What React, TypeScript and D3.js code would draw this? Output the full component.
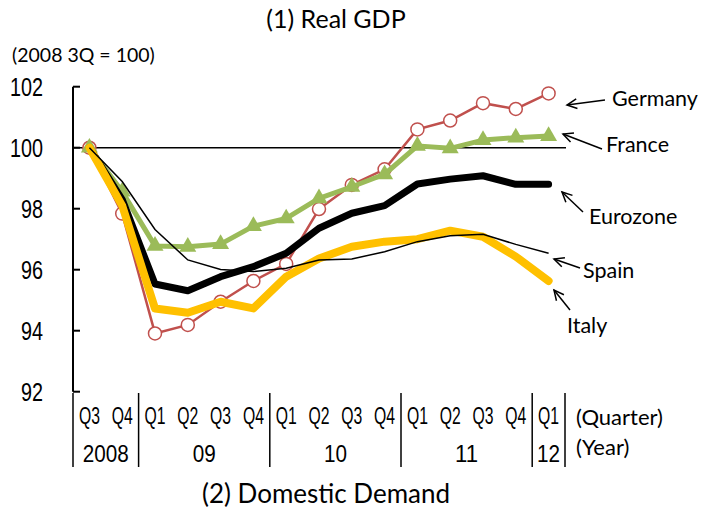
import React from "react";
import * as d3 from "d3";

const quarters = ["Q3", "Q4", "Q1", "Q2", "Q3", "Q4", "Q1", "Q2", "Q3", "Q4", "Q1", "Q2", "Q3", "Q4", "Q1"];
const years = ["2008", "09", "10", "11", "12"];
const yearSpans = [2, 4, 4, 4, 1];
const yTicks = [92, 94, 96, 98, 100, 102];

const germany = [100, 97.84, 93.91, 94.19, 94.95, 95.63, 96.19, 97.99, 98.78, 99.29, 100.6, 100.89, 101.46, 101.27, 101.78];
const france = [100, 98.56, 96.78, 96.75, 96.84, 97.43, 97.68, 98.34, 98.72, 99.13, 100.06, 99.98, 100.25, 100.33, 100.38];
const eurozone = [100, 98.3, 95.53, 95.31, 95.77, 96.1, 96.54, 97.36, 97.85, 98.1, 98.81, 98.97, 99.08, 98.8, 98.8];
const italy = [100, 98.1, 94.73, 94.59, 94.95, 94.73, 95.77, 96.37, 96.75, 96.92, 97.0, 97.28, 97.08, 96.43, 95.63];
const spain = [100, 98.89, 97.32, 96.32, 96.01, 95.94, 96.05, 96.32, 96.35, 96.59, 96.92, 97.11, 97.16, 96.83, 96.54];

const seriesNames = ["Germany", "France", "Eurozone", "Spain", "Italy"];

// annotation layout: label position and arrow tail/head
const annot = [
  { name: "Germany", tx: 612, ty: 98, x1: 605, y1: 100, x2: 567, y2: 105 },
  { name: "France", tx: 606, ty: 144, x1: 602, y1: 149, x2: 563, y2: 134 },
  { name: "Eurozone", tx: 589, ty: 216, x1: 583, y1: 212, x2: 562, y2: 192 },
  { name: "Spain", tx: 583, ty: 270, x1: 580, y1: 268, x2: 554, y2: 259 },
  { name: "Italy", tx: 567, ty: 325, x1: 570, y1: 310, x2: 554, y2: 290 },
];

const W = 704;
const H = 510;
const LATO = "Lato, 'Open Sans', sans-serif";
const NARROW = "'Liberation Sans Narrow', 'Liberation Sans', sans-serif";

export default function App() {
  const idx = quarters.map((_, i) => i);
  const x = d3.scaleBand<number>().domain(idx).range([73, 565]).padding(0);
  const bw = x.bandwidth();
  const cx = (i: number) => (x(i) as number) + bw / 2;
  const y = d3.scaleLinear().domain([92, 102]).range([391.7, 86.7]);

  const line = d3
    .line<number>()
    .x((_, i) => cx(i))
    .y((d) => y(d))
    .curve(d3.curveLinear);

  // year group boundaries
  const bounds: number[] = [0];
  yearSpans.forEach((s, k) => bounds.push(bounds[k] + s));

  const tri = d3.symbol().type(d3.symbolTriangle).size(125)();

  const arrowHead = (a: { x1: number; y1: number; x2: number; y2: number }) => {
    const ang = Math.atan2(a.y1 - a.y2, a.x1 - a.x2);
    const L = 11;
    const spread = 0.45;
    const p1 = [a.x2 + L * Math.cos(ang + spread), a.y2 + L * Math.sin(ang + spread)];
    const p2 = [a.x2 + L * Math.cos(ang - spread), a.y2 + L * Math.sin(ang - spread)];
    return `M${p1[0]},${p1[1]}L${a.x2},${a.y2}L${p2[0]},${p2[1]}`;
  };

  return (
    <svg width={W} height={H} style={{ position: "absolute", left: 0, top: 0, background: "#fff" }}>
      <rect width={W} height={H} fill="#fff" />
      {/* titles */}
      <text x={336} y={18} fontFamily={LATO} fontSize={25} textAnchor="middle" dominantBaseline="central" fill="#000">
        (1) Real GDP
      </text>
      <text x={12} y={54} fontFamily={LATO} fontSize={19.5} dominantBaseline="central" fill="#000">
        (2008 3Q = 100)
      </text>
      <text x={326} y={493} fontFamily={LATO} fontSize={26} textAnchor="middle" dominantBaseline="central" fill="#000">
        (2) Domestic Demand
      </text>

      {/* y axis */}
      <line x1={73} x2={73} y1={y(102)} y2={y(92)} stroke="#000" strokeWidth={2} />
      {yTicks.map((t) => (
        <g key={t}>
          <line x1={73} x2={80} y1={y(t)} y2={y(t)} stroke="#000" strokeWidth={2} />
          <text
            x={43}
            y={y(t)}
            fontFamily={NARROW}
            fontSize={25}
            textAnchor="end"
            dominantBaseline="central"
            textLength={String(t).length * 11}
            lengthAdjust="spacingAndGlyphs"
            fill="#000"
          >
            {t}
          </text>
        </g>
      ))}

      {/* reference line at 100 */}
      <line x1={73} x2={566} y1={y(100)} y2={y(100)} stroke="#000" strokeWidth={1.5} />

      {/* x axis labels */}
      {quarters.map((q, i) => (
        <text
          key={i}
          x={cx(i)}
          y={416}
          fontFamily={NARROW}
          fontSize={23}
          textAnchor="middle"
          dominantBaseline="central"
          textLength={21}
          lengthAdjust="spacingAndGlyphs"
          fill="#000"
        >
          {q}
        </text>
      ))}
      {years.map((yr, k) => {
        const a = x(bounds[k]) as number;
        const b = (x(bounds[k + 1] - 1) as number) + bw;
        return (
          <text
            key={yr}
            x={(a + b) / 2}
            y={453}
            fontFamily={NARROW}
            fontSize={24}
            textAnchor="middle"
            dominantBaseline="central"
            textLength={yr.length * 11.5}
            lengthAdjust="spacingAndGlyphs"
            fill="#000"
          >
            {yr}
          </text>
        );
      })}
      {bounds.map((bi, k) => {
        const xx = bi < quarters.length ? (x(bi) as number) : (x(quarters.length - 1) as number) + bw;
        return <line key={k} x1={xx} x2={xx} y1={393} y2={467} stroke="#000" strokeWidth={1.5} />;
      })}
      <text x={576} y={416} fontFamily={LATO} fontSize={22} dominantBaseline="central" fill="#000">
        (Quarter)
      </text>
      <text x={576} y={446} fontFamily={LATO} fontSize={22} dominantBaseline="central" fill="#000">
        (Year)
      </text>

      {/* Germany */}
      <path d={line(germany) || ""} fill="none" stroke="#C0504D" strokeWidth={2.5} />
      {germany.map((v, i) => (
        <circle key={i} cx={cx(i)} cy={y(v)} r={6.5} fill="#fff" stroke="#C0504D" strokeWidth={1.5} />
      ))}
      {/* France */}
      <path d={line(france) || ""} fill="none" stroke="#9BBB59" strokeWidth={5} strokeLinejoin="round" />
      {france.map((v, i) => (
        <path key={i} d={tri || ""} transform={`translate(${cx(i)},${y(v)})`} fill="#9BBB59" />
      ))}
      {/* Eurozone */}
      <path d={line(eurozone) || ""} fill="none" stroke="#000" strokeWidth={7} strokeLinejoin="round" strokeLinecap="round" />
      {/* Italy */}
      <path d={line(italy) || ""} fill="none" stroke="#FFC000" strokeWidth={8} strokeLinejoin="round" strokeLinecap="round" />
      {/* Spain */}
      <path d={line(spain) || ""} fill="none" stroke="#000" strokeWidth={1.5} />

      {/* annotations */}
      {annot.map((a) => (
        <g key={a.name}>
          <line x1={a.x1} y1={a.y1} x2={a.x2} y2={a.y2} stroke="#000" strokeWidth={1.5} />
          <path d={arrowHead(a)} fill="none" stroke="#000" strokeWidth={1.5} />
          <text x={a.tx} y={a.ty} fontFamily={LATO} fontSize={21.5} dominantBaseline="central" fill="#000">
            {seriesNames.includes(a.name) ? a.name : ""}
          </text>
        </g>
      ))}
    </svg>
  );
}
